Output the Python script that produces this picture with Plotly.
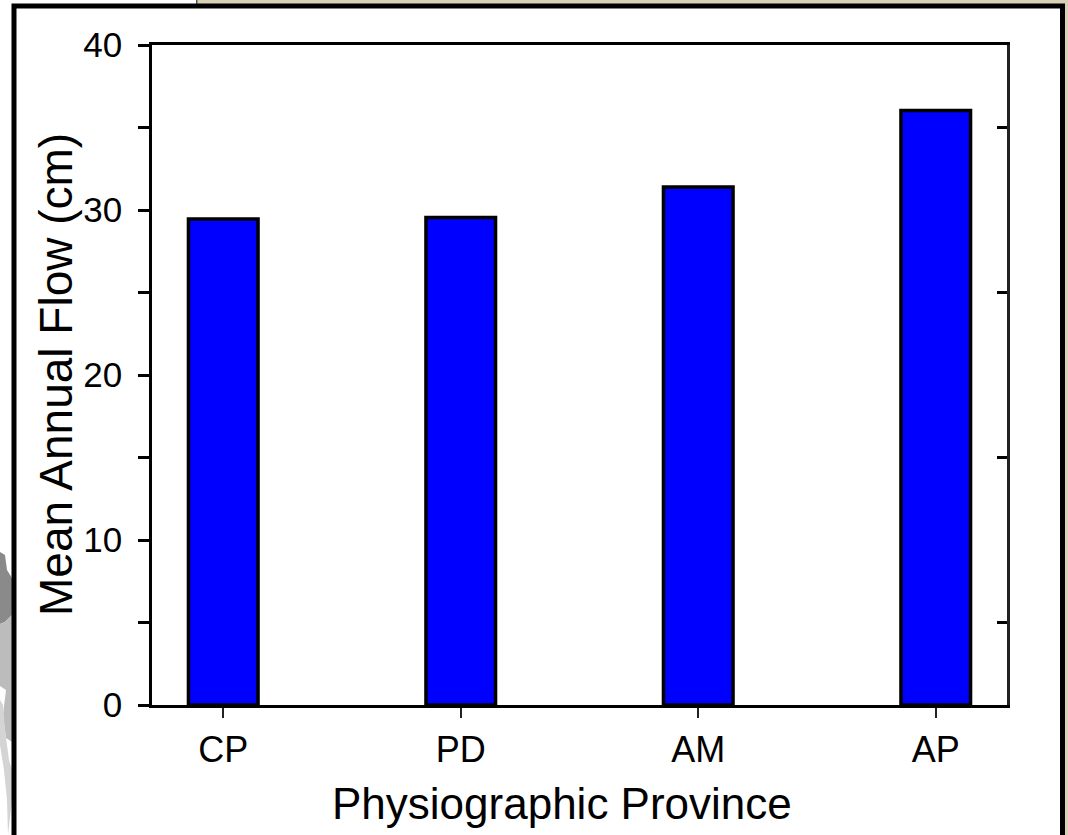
import plotly.graph_objects as go

provinces = ["CP", "PD", "AM", "AP"]
meanFlow = [29.45, 29.55, 31.4, 36.03]

yTicks = [0, 5, 10, 15, 20, 25, 30, 35, 40]
yTickText = ["0", "", "10", "", "20", "", "30", "", "40"]
rightTicks = [5, 15, 25, 35]

W, H = 1068, 835
L, R, T, B = 152, 1007, 45, 705
FONT = "Liberation Sans, Arial, sans-serif"

# picture coords -> paper coords, for the frame and backdrop
def px(x):
    return (x - L) / (R - L)

def py(y):
    return (B - y) / (B - T)

def box(x0, y0, x1, y1, fill, line=None, width=0):
    return dict(type="rect", xref="paper", yref="paper", layer="below",
                x0=px(x0), x1=px(x1), y0=py(y0), y1=py(y1),
                fillcolor=fill, line=dict(color=line, width=width))

def blob(points, fill):
    path = "M " + " L ".join(f"{px(a):.5f},{py(b):.5f}" for a, b in points) + " Z"
    return dict(type="path", xref="paper", yref="paper", layer="below", path=path,
                fillcolor=fill, line=dict(width=0))

shapes = [
    # backdrop showing round the panel
    box(197, 0, W, 4, "#d9d0b8"),
    box(1065, 0, W, H, "#d9d0b8"),
    box(196, 0, 197.5, 4, "#555555"),
    blob([(0, 552), (5, 555), (7, 570), (12, 578), (12, 615), (5, 622), (0, 624)], "#8a8a8a"),
    blob([(0, 624), (5, 622), (12, 615), (12, 742), (6, 738), (3, 715), (6, 690), (0, 686)], "#bcbcbc"),
    blob([(0, 700), (3, 705), (5, 730), (9, 760), (12, 770), (12, 800), (8, 835), (7, 800), (4, 770), (0, 745)], "#d4d4d4"),
    # white panel with heavy black frame
    box(14, 6, 1062.5, H + 10, "white", "black", 5),
]

fig = go.Figure()
fig.add_trace(go.Bar(x=provinces, y=meanFlow, width=0.293, marker_color="#0000ff",
                     marker_line_color="black", marker_line_width=3.5, showlegend=False))
# empty trace so the right hand axis gets drawn
fig.add_trace(go.Scatter(x=provinces, y=[None] * 4, yaxis="y2", mode="lines",
                         showlegend=False, hoverinfo="skip"))

fig.update_layout(
    width=W, height=H, autosize=False,
    margin=dict(l=L, r=W - R, t=T, b=H - B, pad=0),
    paper_bgcolor="white", plot_bgcolor="rgba(0,0,0,0)",
    font=dict(family=FONT, color="black"),
    shapes=shapes,
    xaxis=dict(type="category", range=[-0.3, 3.3], showgrid=False, zeroline=False,
               showline=True, linecolor="black", linewidth=3, mirror=True,
               ticks="outside", ticklen=10, tickwidth=1.5, tickcolor="#222222",
               tickfont=dict(size=36), automargin=False, ticklabelstandoff=1),
    yaxis=dict(range=[0, 40], tickmode="array", tickvals=yTicks, ticktext=yTickText,
               showgrid=False, zeroline=False, showline=True, linecolor="black", linewidth=2.5,
               ticks="outside", ticklen=11, tickwidth=2.5, tickcolor="black",
               tickfont=dict(size=35), automargin=False, ticklabelstandoff=9),
    yaxis2=dict(range=[0, 40], overlaying="y", side="right", tickmode="array",
                tickvals=rightTicks, ticktext=[""] * 4, showgrid=False, zeroline=False,
                showline=True, linecolor="#222222", linewidth=2.5,
                ticks="inside", ticklen=10, tickwidth=2.5, tickcolor="black"),
    annotations=[
        dict(text="Physiographic Province", xref="paper", yref="paper",
             x=px(562), y=py(803), xanchor="center", yanchor="middle",
             showarrow=False, font=dict(size=44)),
        dict(text="Mean Annual Flow (cm)", xref="paper", yref="paper", textangle=-90,
             x=px(56), y=py(375), xanchor="center", yanchor="middle",
             showarrow=False, font=dict(size=46)),
    ],
)

fig.write_html("out.html", config=dict(displayModeBar=False),
               post_script="document.body.style.margin='0';")
